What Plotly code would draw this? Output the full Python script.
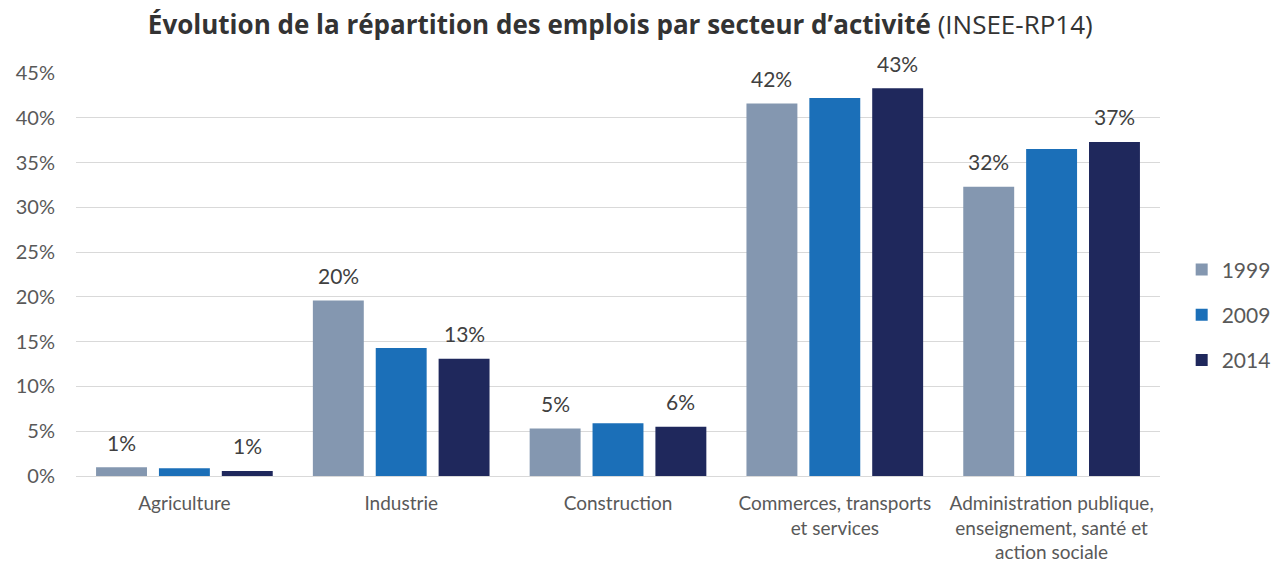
import plotly.graph_objects as go

# Employment share by sector (INSEE census data), in percent
categories = [
    "Agriculture",
    "Industrie",
    "Construction",
    "Commerces, transports<br>et services",
    "Administration publique,<br>enseignement, santé et<br>action sociale",
]
years = ["1999", "2009", "2014"]
share_1999 = [0.97, 19.6, 5.3, 41.6, 32.3]
share_2009 = [0.86, 14.3, 5.9, 42.2, 36.5]
share_2014 = [0.56, 13.1, 5.5, 43.3, 37.3]
series = [share_1999, share_2009, share_2014]
colors = ["#8497B0", "#1B6FB8", "#1F285C"]
labelled_years = ["1999", "2014"]

# Layout geometry (px)
W, H = 1279, 563
M_L, M_R, M_T, M_B = 76, 119, 73, 87
BARGAP, GROUPGAP = 0.13, 0.19

FONT = "Lato, Open Sans, sans-serif"
TXT = "#595959"

fig = go.Figure()
for yr, vals, col in zip(years, series, colors):
    fig.add_trace(go.Bar(
        name=yr, x=categories, y=vals, marker_color=col,
        marker_line_width=0, legendgroup=yr,
        hovertemplate="%{y:.1f}%<extra>" + yr + "</extra>",
    ))

# Value labels above the 1999 and 2014 bars
plot_w = W - M_L - M_R
slot = plot_w / len(categories) * (1 - BARGAP) / len(years)
for i, (yr, vals) in enumerate(zip(years, series)):
    if yr not in labelled_years:
        continue
    for cat, v in zip(categories, vals):
        fig.add_annotation(
            x=cat, y=v, text=f"{v:.0f}%", showarrow=False,
            xshift=(i - (len(years) - 1) / 2) * slot, yshift=25,
            yanchor="middle", font=dict(family=FONT, size=21, color="#404040"),
        )

fig.update_layout(
    width=W, height=H,
    margin=dict(l=M_L, r=M_R, t=M_T, b=M_B, autoexpand=False),
    paper_bgcolor="white", plot_bgcolor="white",
    barmode="group", bargap=BARGAP, bargroupgap=GROUPGAP,
    title=dict(
        text="<b>Évolution de la répartition des emplois par secteur d’activité</b> (INSEE-RP14)",
        x=0.485, xanchor="center", y=0.955, yanchor="middle",
        font=dict(family="Open Sans, sans-serif", size=26, color="#333333"),
    ),
    font=dict(family=FONT, size=19, color=TXT),
    legend=dict(
        x=1.02, xanchor="left", y=0.4, yanchor="middle",
        font=dict(family=FONT, size=21, color=TXT),
        tracegroupgap=15, itemwidth=30,
    ),
    showlegend=True,
)
fig.update_yaxes(
    range=[0, 45], dtick=5, ticksuffix="%", automargin=False,
    showgrid=True, gridcolor="#D9D9D9", gridwidth=1.3,
    zeroline=True, zerolinecolor="#D9D9D9", zerolinewidth=1.3,
    showline=False, ticks="", ticklabelstandoff=20,
    tickfont=dict(family=FONT, size=20, color=TXT),
)
fig.update_xaxes(
    showgrid=False, showline=False, ticks="", automargin=False,
    tickfont=dict(family=FONT, size=19, color=TXT),
    tickangle=0, ticklabelstandoff=14,
)

fig.write_html("out.html")
